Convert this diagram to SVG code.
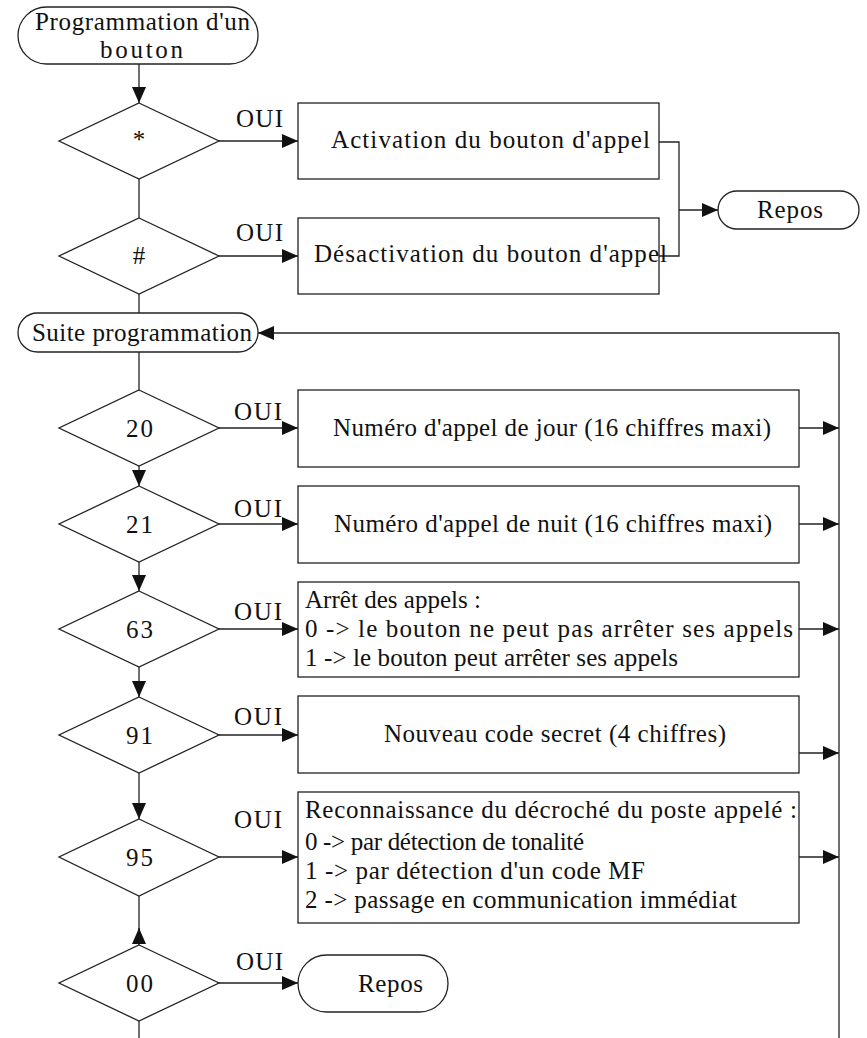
<svg xmlns="http://www.w3.org/2000/svg" width="867" height="1038" viewBox="0 0 867 1038">
<style>
.s{fill:#fff;stroke:#222;stroke-width:1.3}
.c{fill:none;stroke:#222;stroke-width:1.3}
text{font-family:"Liberation Serif","Times New Roman",serif;font-size:25px;fill:#111}
.m{text-anchor:middle}
</style>
<defs>
<marker id="a" markerUnits="userSpaceOnUse" markerWidth="16" markerHeight="14" refX="16" refY="7" orient="auto">
<path d="M0,0 L16,7 L0,14 z" fill="#111"/>
</marker>
</defs>
<rect width="867" height="1038" fill="#fff"/>
<g id="connectors">
<line class="c" x1="139" y1="64" x2="139" y2="103" marker-end="url(#a)"/>
<line class="c" x1="219" y1="141" x2="298" y2="141" marker-end="url(#a)"/>
<line class="c" x1="139" y1="179" x2="139" y2="218"/>
<line class="c" x1="219" y1="256" x2="298" y2="256" marker-end="url(#a)"/>
<polyline class="c" points="659,142 679,142 679,256 659,256"/>
<line class="c" x1="679" y1="210" x2="718" y2="210" marker-end="url(#a)"/>
<line class="c" x1="139" y1="294" x2="139" y2="313"/>
<line class="c" x1="139" y1="352" x2="139" y2="390"/>
<line class="c" x1="219" y1="428" x2="298" y2="428" marker-end="url(#a)"/>
<line class="c" x1="139" y1="466" x2="139" y2="486" marker-end="url(#a)"/>
<line class="c" x1="219" y1="524" x2="298" y2="524" marker-end="url(#a)"/>
<line class="c" x1="139" y1="562" x2="139" y2="591" marker-end="url(#a)"/>
<line class="c" x1="219" y1="629" x2="298" y2="629" marker-end="url(#a)"/>
<line class="c" x1="139" y1="667" x2="139" y2="697" marker-end="url(#a)"/>
<line class="c" x1="219" y1="735" x2="298" y2="735" marker-end="url(#a)"/>
<line class="c" x1="139" y1="773" x2="139" y2="819" marker-end="url(#a)"/>
<line class="c" x1="219" y1="857" x2="298" y2="857" marker-end="url(#a)"/>
<line class="c" x1="139" y1="896" x2="139" y2="930"/>
<line class="c" x1="139" y1="957" x2="139" y2="928" marker-end="url(#a)"/>
<line class="c" x1="219" y1="983" x2="298" y2="983" marker-end="url(#a)"/>
<line class="c" x1="139" y1="1021" x2="139" y2="1038"/>
<line class="c" x1="839" y1="1038" x2="839" y2="333"/>
<line class="c" x1="839" y1="333" x2="258" y2="333" marker-end="url(#a)"/>
<line class="c" x1="799" y1="428" x2="839" y2="428" marker-end="url(#a)"/>
<line class="c" x1="799" y1="524" x2="839" y2="524" marker-end="url(#a)"/>
<line class="c" x1="799" y1="629" x2="839" y2="629" marker-end="url(#a)"/>
<line class="c" x1="799" y1="753" x2="839" y2="753" marker-end="url(#a)"/>
<line class="c" x1="799" y1="857" x2="839" y2="857" marker-end="url(#a)"/>
<text x="236" y="127" textLength="47">OUI</text>
<text x="236" y="241" textLength="47">OUI</text>
<text x="234" y="420" textLength="48">OUI</text>
<text x="234" y="517" textLength="48">OUI</text>
<text x="234" y="620" textLength="48">OUI</text>
<text x="234" y="725" textLength="48">OUI</text>
<text x="234" y="828" textLength="48">OUI</text>
<text x="236" y="970" textLength="47">OUI</text>
</g>
<g id="start">
<rect class="s" x="18" y="7" width="240" height="57" rx="28.5"/>
<text x="35" y="30" textLength="215">Programmation d'un</text>
<text x="100" y="58" textLength="83">bouton</text>
</g>
<g id="d-star">
<polygon class="s" points="139,103 219,141 139,179 59,141"/>
<text class="m" x="139" y="148">*</text>
</g>
<g id="box-activation">
<rect class="s" x="298" y="103" width="361" height="76"/>
<text x="331" y="148" textLength="319">Activation du bouton d'appel</text>
</g>
<g id="d-hash">
<polygon class="s" points="139,218 219,256 139,294 59,256"/>
<text class="m" x="139" y="264">#</text>
</g>
<g id="box-desactivation">
<rect class="s" x="298" y="218" width="361" height="76"/>
<text x="314" y="262" textLength="353">Désactivation du bouton d'appel</text>
</g>
<g id="repos-1">
<rect class="s" x="718" y="191" width="141" height="38" rx="19"/>
<text x="757" y="218" textLength="66">Repos</text>
</g>
<g id="suite">
<rect class="s" x="18" y="313" width="240" height="39" rx="19.5"/>
<text x="32" y="341" textLength="220">Suite programmation</text>
</g>
<g id="d-20">
<polygon class="s" points="139,390 219,428 139,466 59,428"/>
<text x="126" y="437" textLength="27">20</text>
</g>
<g id="box-20">
<rect class="s" x="298" y="390" width="501" height="77"/>
<text x="333" y="436" textLength="438">Numéro d'appel de jour (16 chiffres maxi)</text>
</g>
<g id="d-21">
<polygon class="s" points="139,486 219,524 139,562 59,524"/>
<text x="126" y="533" textLength="27">21</text>
</g>
<g id="box-21">
<rect class="s" x="298" y="486" width="501" height="77"/>
<text x="334" y="532" textLength="438">Numéro d'appel de nuit (16 chiffres maxi)</text>
</g>
<g id="d-63">
<polygon class="s" points="139,591 219,629 139,667 59,629"/>
<text x="126" y="638" textLength="27">63</text>
</g>
<g id="box-63">
<rect class="s" x="298" y="582" width="501" height="95"/>
<text x="305" y="608" textLength="176">Arrêt des appels :</text>
<text x="305" y="637" textLength="488">0 -&gt; le bouton ne peut pas arrêter ses appels</text>
<text x="305" y="666" textLength="373">1 -&gt; le bouton peut arrêter ses appels</text>
</g>
<g id="d-91">
<polygon class="s" points="139,697 219,735 139,773 59,735"/>
<text x="126" y="744" textLength="27">91</text>
</g>
<g id="box-91">
<rect class="s" x="298" y="696" width="501" height="77"/>
<text x="384" y="742" textLength="342">Nouveau code secret (4 chiffres)</text>
</g>
<g id="d-95">
<polygon class="s" points="139,819 219,857 139,896 59,857"/>
<text x="126" y="866" textLength="27">95</text>
</g>
<g id="box-95">
<rect class="s" x="298" y="792" width="501" height="131"/>
<text x="305" y="818" textLength="492">Reconnaissance du décroché du poste appelé :</text>
<text x="305" y="850" textLength="279">0 -&gt; par détection de tonalité</text>
<text x="305" y="879" textLength="340">1 -&gt; par détection d'un code MF</text>
<text x="305" y="908" textLength="432">2 -&gt; passage en communication immédiat</text>
</g>
<g id="d-00">
<polygon class="s" points="139,945 219,983 139,1021 59,983"/>
<text x="126" y="992" textLength="27">00</text>
</g>
<g id="repos-2">
<rect class="s" x="298" y="955" width="150" height="57" rx="28.5"/>
<text x="358" y="992" textLength="65">Repos</text>
</g>
</svg>
